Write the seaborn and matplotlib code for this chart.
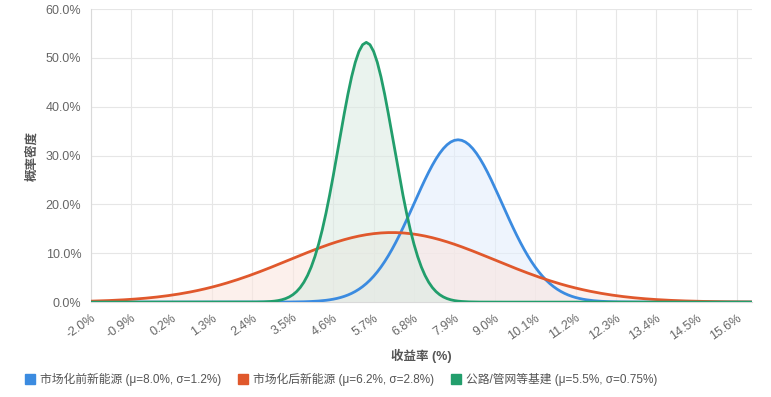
import numpy as np
import pandas as pd
import matplotlib
matplotlib.use('Agg')
import matplotlib.pyplot as plt
import seaborn as sns
from matplotlib.ticker import FuncFormatter
from matplotlib.patches import Patch

# distribution parameters (from the legend), in %
names = ['市场化前新能源', '市场化后新能源', '公路/管网等基建']
mus = [8.0, 6.2, 5.5]
sigmas = [1.2, 2.8, 0.75]
colors = ['#3b8be0', '#e0582c', '#229e6c']
fills = ['#e3eefc', '#fbe6e0', '#dcebe3']

# x axis: -2% .. 16% in 0.1 steps, label every 1.1%
x_vals = np.round(np.arange(-2.0, 16.01, 0.1), 1)
tick_vals = np.round(np.arange(-2.0, 15.61, 1.1), 1)

rows = []
for name, mu, sd in zip(names, mus, sigmas):
    dens = np.exp(-0.5 * ((x_vals - mu) / sd) ** 2) / (sd * np.sqrt(2 * np.pi))
    for xv, dv in zip(x_vals, dens):
        rows.append({'x': xv, 'density': dv * 100, 'series': name})
df = pd.DataFrame(rows)

sns.set_theme(style='white')
plt.rcParams['font.family'] = ['Liberation Sans', 'Noto Sans CJK SC', 'DejaVu Sans']

fig = plt.figure(figsize=(7.71, 3.97), dpi=100)
ax = fig.add_axes([0.118, 0.239, 0.857, 0.738])

for name, fc in zip(names, fills):
    sub = df[df['series'] == name]
    ax.fill_between(sub['x'], 0, sub['density'], color=fc, alpha=0.6, lw=0, zorder=1)

sns.lineplot(data=df, x='x', y='density', hue='series', palette=colors,
             linewidth=2, ax=ax, legend=False, zorder=3)

ax.set_xlim(-2.0, 16.0)
ax.set_ylim(0, 60)
ax.set_xticks(tick_vals)
ax.set_xticklabels([f'{t:.1f}%' for t in tick_vals], rotation=35, ha='right',
                   rotation_mode='anchor')
ax.set_yticks(np.arange(0, 61, 10))
ax.yaxis.set_major_formatter(FuncFormatter(lambda v, p: f'{v:.1f}%'))
ax.tick_params(axis='both', labelsize=9, labelcolor='#666666', length=4,
               color='#e0e0e0', pad=3)
ax.grid(True, color='#e6e6e6', linewidth=0.8, zorder=0)
for s in ['top', 'right']:
    ax.spines[s].set_visible(False)
for s in ['left', 'bottom']:
    ax.spines[s].set_color('#d9d9d9')
    ax.spines[s].set_linewidth(0.8)

ax.set_xlabel('收益率 (%)', fontsize=9, fontweight='bold', color='#555555', labelpad=5)
ax.set_ylabel('概率密度', fontsize=9, fontweight='bold', color='#555555', labelpad=5)

handles = [Patch(facecolor=c, edgecolor=c) for c in colors]
labels = [f'{n} (μ={m}%, σ={s}%)' for n, m, s in zip(names, mus, sigmas)]
fig.legend(handles, labels, loc='lower left', bbox_to_anchor=(0.018, 0.0), ncol=3,
           frameon=False, fontsize=8.5, handlelength=0.9, handleheight=0.9,
           handletextpad=0.4, columnspacing=1.4, labelcolor='#555555')

fig.savefig('out.png', dpi=100)
